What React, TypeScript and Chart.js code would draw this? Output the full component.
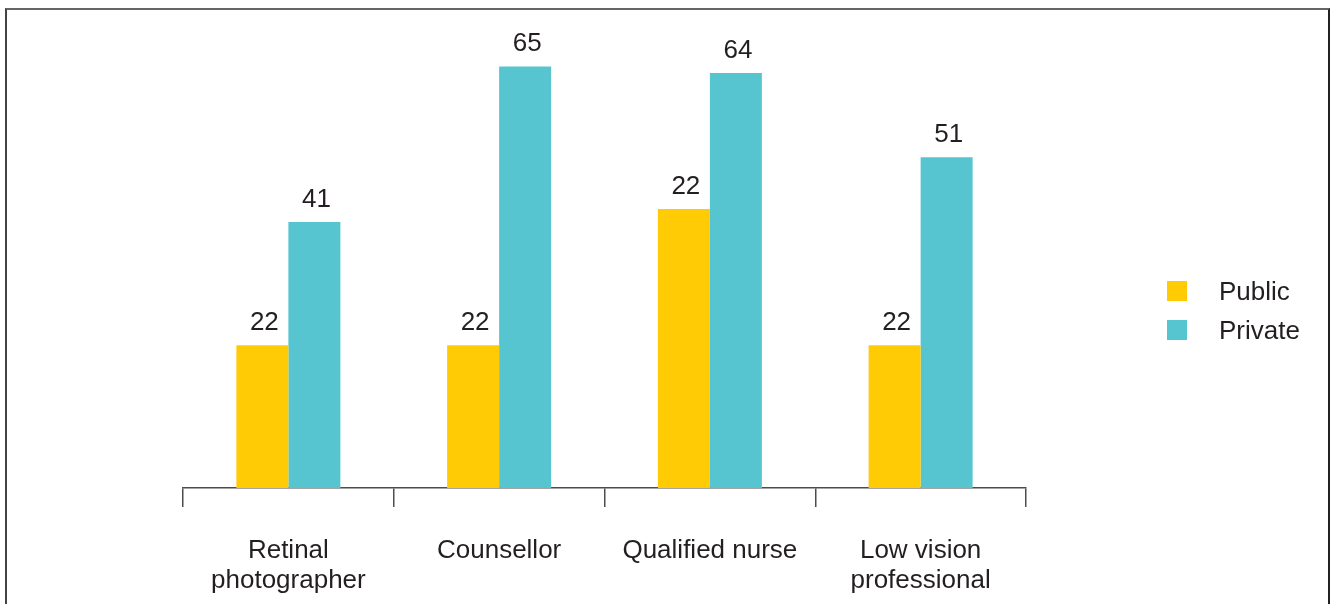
import React, { useEffect, useRef } from "react";
import { Chart, registerables } from "chart.js";

Chart.register(...registerables);

const categories: string[][] = [
  ["Retinal", "photographer"],
  ["Counsellor"],
  ["Qualified nurse"],
  ["Low vision", "professional"],
];
const seriesNames = ["Public", "Private"];
const publicValues = [22, 22, 43, 22];
const privateValues = [41, 65, 64, 51];
const publicLabels = ["22", "22", "22", "22"];
const privateLabels = ["41", "65", "64", "51"];

const YELLOW = "#FFCB05";
const TEAL = "#56C5D0";
const TEXT = "#231F20";
const FONT = "'Liberation Sans', Arial, sans-serif";

export default function App() {
  const ref = useRef<HTMLCanvasElement | null>(null);

  useEffect(() => {
    if (!ref.current) return;
    const valueLabels = [publicLabels, privateLabels];

    const labelPlugin = {
      id: "valueLabels",
      afterDatasetsDraw(chart: any) {
        const ctx = chart.ctx;
        ctx.save();
        ctx.font = `26px ${FONT}`;
        ctx.fillStyle = TEXT;
        ctx.textAlign = "center";
        ctx.textBaseline = "alphabetic";
        chart.data.datasets.forEach((ds: any, i: number) => {
          const meta = chart.getDatasetMeta(i);
          meta.data.forEach((el: any, j: number) => {
            ctx.fillText(valueLabels[i][j], el.x + 2, el.y - 15);
          });
        });
        ctx.restore();
      },
    };

    const legendPlugin = {
      id: "sideLegend",
      afterDraw(chart: any) {
        const ctx = chart.ctx;
        ctx.save();
        ctx.font = `26px ${FONT}`;
        ctx.textAlign = "left";
        ctx.textBaseline = "alphabetic";
        chart.data.datasets.forEach((ds: any, i: number) => {
          const y = 281 + i * 39;
          ctx.fillStyle = ds.backgroundColor;
          ctx.fillRect(1167, y, 20, 20);
          ctx.fillStyle = TEXT;
          ctx.fillText(ds.label, 1219, y + 19);
        });
        ctx.restore();
      },
    };

    const chart = new Chart(ref.current, {
      type: "bar",
      data: {
        labels: categories,
        datasets: [
          {
            label: seriesNames[0],
            data: publicValues,
            backgroundColor: YELLOW,
            barPercentage: 1,
            categoryPercentage: 0.4935,
          },
          {
            label: seriesNames[1],
            data: privateValues,
            backgroundColor: TEAL,
            barPercentage: 1,
            categoryPercentage: 0.4935,
          },
        ],
      },
      options: {
        animation: false,
        responsive: false,
        maintainAspectRatio: false,
        events: [],
        layout: { padding: { left: 183, right: 304, top: 34, bottom: 0 } },
        plugins: {
          legend: { display: false },
          tooltip: { enabled: false },
        },
        scales: {
          y: { display: false, min: 0, max: 70 },
          x: {
            afterFit(scale: any) {
              scale.height = 116;
            },
            grid: {
              offset: true,
              drawOnChartArea: false,
              drawTicks: true,
              tickLength: 19,
              color: "#4d4d4d",
              lineWidth: 1.5,
            },
            border: { display: true, color: "#4d4d4d", width: 1.5 },
            ticks: {
              color: TEXT,
              padding: 29,
              maxRotation: 0,
              autoSkip: false,
              font: { family: FONT, size: 26, lineHeight: 1.14 },
            },
          },
        },
      },
      plugins: [labelPlugin, legendPlugin],
    });
    return () => chart.destroy();
  }, []);

  return (
    <div style={{ position: "fixed", left: 0, top: 0, width: 1330, height: 604, background: "#fff", overflow: "hidden" }}>
      <canvas ref={ref} width={1330} height={604} style={{ position: "absolute", left: 0, top: 0 }} />
      <div
        style={{
          position: "absolute",
          left: 5,
          top: 8,
          width: 1321,
          height: 640,
          borderTop: "2px solid #666",
          borderLeft: "2px solid #444",
          borderRight: "2px solid #222",
          pointerEvents: "none",
        }}
      />
    </div>
  );
}
